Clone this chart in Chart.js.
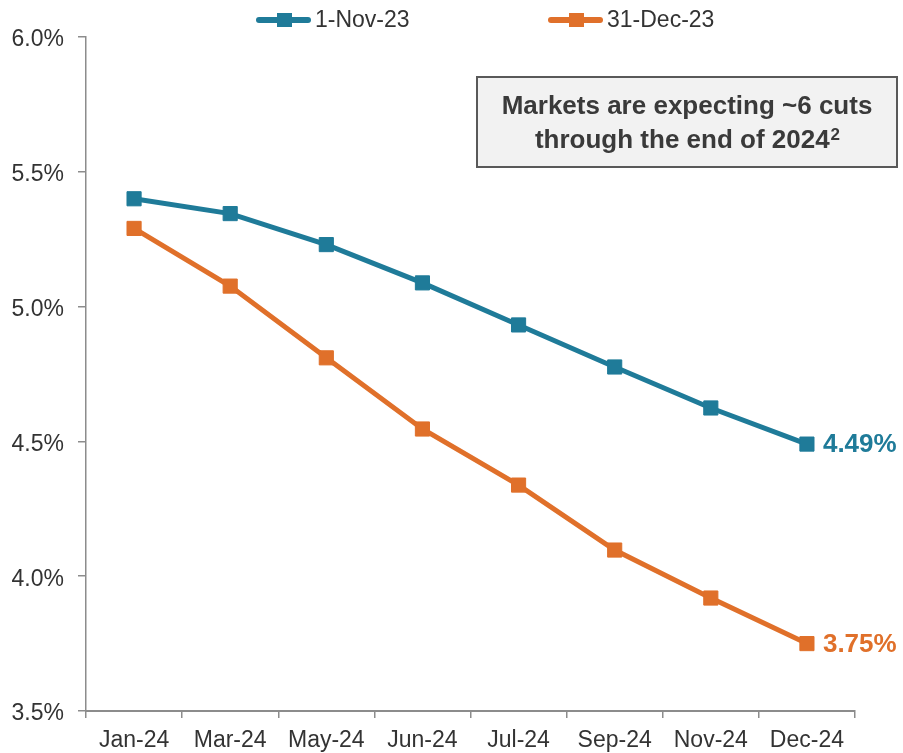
<!DOCTYPE html>
<html>
<head>
<meta charset="utf-8">
<script src="https://cdn.jsdelivr.net/npm/chart.js@4.4.0/dist/chart.umd.min.js"></script>
<style>
  body { margin: 0; background: #fff; }
  #wrap { width: 903px; height: 753px; }
</style>
</head>
<body>
<div id="wrap"><canvas id="rateChart" width="903" height="753"></canvas></div>
<script>
const months = ['Jan-24', 'Mar-24', 'May-24', 'Jun-24', 'Jul-24', 'Sep-24', 'Nov-24', 'Dec-24'];
const nov1 = [5.40, 5.345, 5.23, 5.088, 4.932, 4.776, 4.624, 4.49];
const dec31 = [5.29, 5.076, 4.81, 4.546, 4.338, 4.097, 3.919, 3.75];
const seriesNames = ['1-Nov-23', '31-Dec-23'];
const endLabels = ['4.49%', '3.75%'];
const yTicks = [3.5, 4.0, 4.5, 5.0, 5.5, 6.0];
const noteLines = ['Markets are expecting ~6 cuts', 'through the end of 2024'];

const BLUE = '#1f7b99';
const ORANGE = '#e0702a';
const FONT = '"Liberation Sans", Arial, sans-serif';
const AXIS = '#8c8c8c';

// legend drawn by hand: line + square marker, like the office chart
const legendPlugin = {
  id: 'officeLegend',
  afterDraw(chart) {
    const ctx = chart.ctx;
    const starts = [256, 548];
    ctx.save();
    chart.data.datasets.forEach((ds, i) => {
      const x0 = starts[i], y = 20;
      ctx.strokeStyle = ds.borderColor;
      ctx.lineWidth = 6;
      ctx.lineCap = 'round';
      ctx.beginPath();
      ctx.moveTo(x0 + 3, y);
      ctx.lineTo(x0 + 52, y);
      ctx.stroke();
      ctx.fillStyle = ds.borderColor;
      ctx.fillRect(x0 + 21, y - 7, 15, 14);
      ctx.fillStyle = '#333';
      ctx.font = '23px ' + FONT;
      ctx.textBaseline = 'middle';
      ctx.textAlign = 'left';
      ctx.fillText(ds.label, x0 + 59, y + 1);
    });
    ctx.restore();
  }
};

// end-of-line value labels
const endLabelPlugin = {
  id: 'endLabels',
  afterDatasetsDraw(chart) {
    const ctx = chart.ctx;
    ctx.save();
    ctx.font = 'bold 26px ' + FONT;
    ctx.textBaseline = 'middle';
    ctx.textAlign = 'left';
    chart.data.datasets.forEach((ds, i) => {
      const pts = chart.getDatasetMeta(i).data;
      const last = pts[pts.length - 1];
      ctx.fillStyle = ds.borderColor;
      ctx.fillText(endLabels[i], last.x + 16, last.y + 1);
    });
    ctx.restore();
  }
};

// call-out box top right
const noteBoxPlugin = {
  id: 'noteBox',
  afterDraw(chart) {
    const ctx = chart.ctx;
    const x = 477, y = 77, w = 420, h = 90;
    ctx.save();
    ctx.fillStyle = '#f2f2f2';
    ctx.fillRect(x, y, w, h);
    ctx.strokeStyle = '#595959';
    ctx.lineWidth = 2;
    ctx.strokeRect(x, y, w, h);
    ctx.fillStyle = '#3a3a3a';
    ctx.font = 'bold 26px ' + FONT;
    ctx.textBaseline = 'middle';
    ctx.textAlign = 'center';
    const cx = x + w / 2;
    ctx.fillText(noteLines[0], cx, 107);
    // second line with superscript 2
    const main = noteLines[1];
    const mw = ctx.measureText(main).width;
    ctx.font = 'bold 17px ' + FONT;
    const sw = ctx.measureText('2').width;
    const startX = cx - (mw + sw) / 2;
    ctx.textAlign = 'left';
    ctx.font = 'bold 26px ' + FONT;
    ctx.fillText(main, startX, 141);
    ctx.font = 'bold 17px ' + FONT;
    ctx.fillText('2', startX + mw + 1, 135);
    ctx.restore();
  }
};

const ctx = document.getElementById('rateChart').getContext('2d');
new Chart(ctx, {
  type: 'line',
  data: {
    labels: months,
    datasets: [
      {
        label: seriesNames[0],
        data: nov1,
        borderColor: BLUE,
        backgroundColor: BLUE,
        borderWidth: 5,
        pointStyle: 'rect',
        pointRadius: 10,
        pointBorderWidth: 1,
        tension: 0
      },
      {
        label: seriesNames[1],
        data: dec31,
        borderColor: ORANGE,
        backgroundColor: ORANGE,
        borderWidth: 5,
        pointStyle: 'rect',
        pointRadius: 10,
        pointBorderWidth: 1,
        tension: 0
      }
    ]
  },
  options: {
    responsive: false,
    animation: false,
    layout: { padding: { top: 37, right: 48, left: 0, bottom: 0 } },
    plugins: {
      legend: { display: false },
      tooltip: { enabled: false }
    },
    scales: {
      x: {
        offset: true,
        grid: {
          offset: true,
          drawOnChartArea: false,
          drawTicks: true,
          tickLength: 7,
          color: AXIS,
          lineWidth: 1.5
        },
        border: { color: AXIS, width: 2 },
        ticks: {
          color: '#333',
          font: { family: FONT, size: 23 },
          padding: 9,
          maxRotation: 0,
          autoSkip: false
        },
        afterFit(scale) { scale.height = 42; }
      },
      y: {
        min: 3.5,
        max: 6.0,
        afterBuildTicks(scale) { scale.ticks = yTicks.map(v => ({ value: v })); },
        grid: {
          drawOnChartArea: false,
          drawTicks: true,
          tickLength: 8,
          color: AXIS,
          lineWidth: 1.5
        },
        border: { color: AXIS, width: 1.5 },
        ticks: {
          color: '#333',
          font: { family: FONT, size: 23 },
          padding: 14,
          labelOffset: 3,
          callback: v => Number(v).toFixed(1) + '%'
        },
        afterFit(scale) { scale.width = 86; }
      }
    }
  },
  plugins: [legendPlugin, endLabelPlugin, noteBoxPlugin]
});
</script>
</body>
</html>
